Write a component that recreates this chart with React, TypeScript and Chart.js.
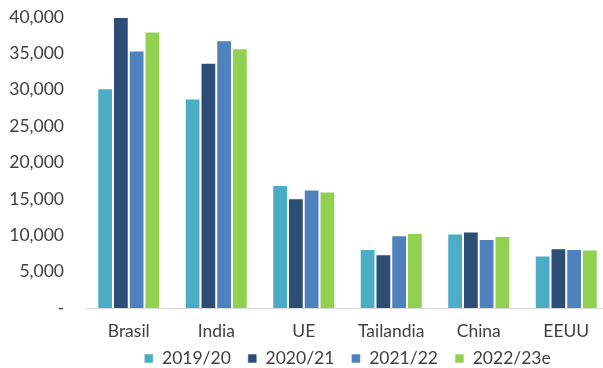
import React, { useEffect, useRef } from "react";
import { Chart, registerables } from "chart.js";

Chart.register(...registerables);

const categories = ["Brasil", "India", "UE", "Tailandia", "China", "EEUU"];
const seriesLabels = ["2019/20", "2020/21", "2021/22", "2022/23e"];
const v2019 = [30200, 28800, 16900, 8100, 10250, 7200];
const v2020 = [40000, 33700, 15100, 7400, 10500, 8200];
const v2021 = [35400, 36800, 16300, 10000, 9500, 8100];
const v2022 = [38000, 35700, 16000, 10300, 9900, 8050];
const colors = ["#4BACC6", "#2C4D75", "#4F81BD", "#92D050"];
const yTicks = [0, 5000, 10000, 15000, 20000, 25000, 30000, 35000, 40000];

const FONT = "Lato, 'Open Sans', sans-serif";
const FS = 17.5;
const LEG_PAD = 17;
const LEG_H = 26;
const X_H = 34;
const LEG_CENTER = 358.5;

export default function App() {
  const ref = useRef<HTMLCanvasElement | null>(null);
  useEffect(() => {
    if (!ref.current) return;
    const values = [v2019, v2020, v2021, v2022];
    const legendFix = {
      id: "legendFix",
      beforeLayout(chart: any) {
        const lg = chart.legend;
        if (lg && !lg._patched) {
          const orig = lg.fit.bind(lg);
          lg.fit = function () {
            orig();
            this.height = LEG_H;
          };
          lg._patched = true;
        }
      },
      afterLayout(chart: any) {
        const lg = chart.legend;
        const ca = chart.chartArea;
        if (lg && ca) {
          lg.left = ca.left;
          lg.right = ca.right;
          lg.width = ca.right - ca.left;
          lg.top = LEG_CENTER - LEG_PAD - FS / 2;
          lg.bottom = lg.top + LEG_H + 20;
          lg.height = lg.bottom - lg.top;
        }
      },
    };
    const chart = new Chart(ref.current, {
      type: "bar",
      data: {
        labels: categories,
        datasets: seriesLabels.map((l, i) => ({
          label: l,
          data: values[i],
          backgroundColor: colors[i],
          borderColor: "rgba(255,255,255,0.55)",
          borderWidth: 1,
          categoryPercentage: 0.72,
          barPercentage: 1.0,
        })),
      },
      options: {
        responsive: false,
        animation: false,
        layout: { padding: { top: 17, right: 1, left: 0, bottom: 0 } },
        plugins: {
          tooltip: { enabled: false },
          legend: {
            position: "bottom",
            labels: {
              font: { family: FONT, size: FS },
              color: "#404040",
              boxWidth: 9,
              boxHeight: 9,
              padding: LEG_PAD,
            },
          },
        },
        scales: {
          x: {
            afterFit: (s: any) => {
              s.height = X_H;
              s.paddingLeft = 0;
              s.paddingRight = 0;
            },
            grid: { display: false, drawTicks: false },
            border: { display: true, color: "#D9D9D9", width: 1 },
            ticks: { font: { family: FONT, size: FS }, color: "#404040", padding: 13 },
          },
          y: {
            min: 0,
            max: 40000,
            afterFit: (s: any) => {
              s.width = 85;
              s.paddingTop = 0;
              s.paddingBottom = 0;
            },
            afterBuildTicks: (s: any) => {
              s.ticks = yTicks.map((v) => ({ value: v }));
            },
            grid: { display: false, drawTicks: false },
            border: { display: false },
            ticks: {
              font: { family: FONT, size: FS },
              color: "#404040",
              padding: 21,
              callback: (v: any) => (Number(v) === 0 ? "-" : Number(v).toLocaleString("en-US")),
            },
          },
        },
      },
      plugins: [legendFix],
    });
    return () => chart.destroy();
  }, []);
  return (
    <div style={{ position: "fixed", left: 0, top: 0, width: 603, height: 368, overflow: "hidden", background: "#fff" }}>
      <canvas ref={ref} width={611} height={368} style={{ display: "block" }} />
    </div>
  );
}
